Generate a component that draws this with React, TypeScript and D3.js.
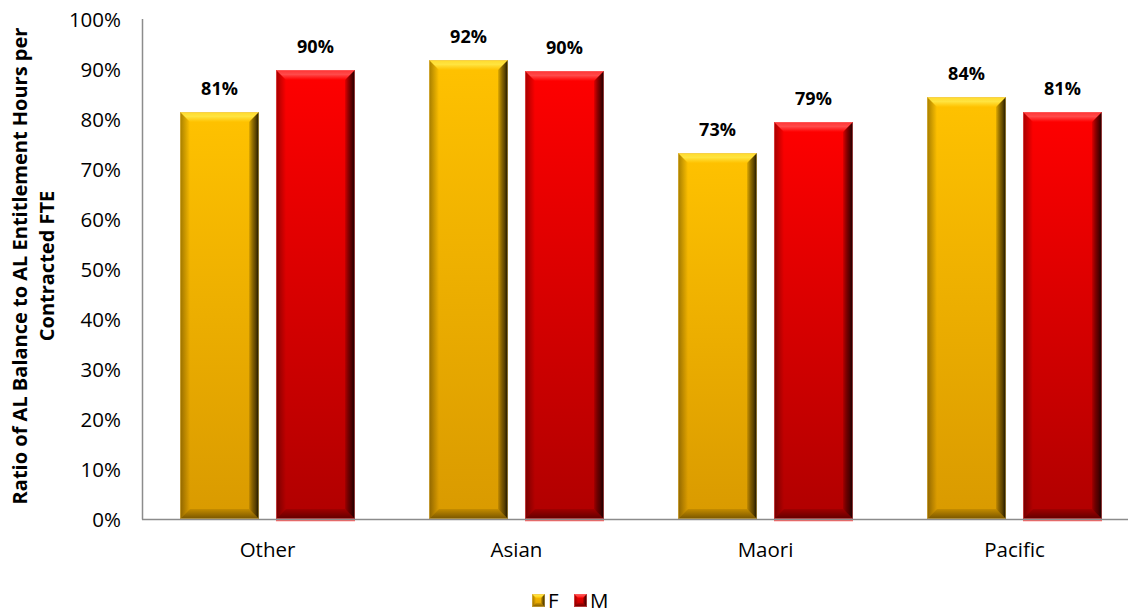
import React from "react";
import * as d3 from "d3";

const categories = ["Other", "Asian", "Maori", "Pacific"];
const seriesKeys = ["F", "M"];
const femaleValues = [0.814, 0.918, 0.732, 0.844];
const maleValues = [0.898, 0.896, 0.794, 0.814];
const yTicks = [0, 0.1, 0.2, 0.3, 0.4, 0.5, 0.6, 0.7, 0.8, 0.9, 1.0];
const yTitleLines = ["Ratio of AL Balance to AL Entitlement Hours per", "Contracted FTE"];

const W = 1128;
const H = 613;
const FONT = "'Open Sans', 'DejaVu Sans', sans-serif";

const palette: Record<string, { top: string; bottom: string; light: string; dark: string; edge: string }> = {
  F: { top: "#FFC200", bottom: "#D99A00", light: "#FFE440", dark: "#3A2A00", edge: "#F0C860" },
  M: { top: "#FF0000", bottom: "#B00000", light: "#FF4A4A", dark: "#300000", edge: "#FF7070" },
};

function BevelBar({ x, y, w, h, k, b }: { x: number; y: number; w: number; h: number; k: string; b: number }) {
  const x1 = x + w;
  const y1 = y + h;
  const bb = Math.min(b, w / 2, h / 2);
  const pts = (arr: number[][]) => arr.map((p) => p.join(",")).join(" ");
  return (
    <g>
      <rect x={x} y={y} width={w} height={h} fill={`url(#body-${k})`} />
      {/* top bevel */}
      <polygon points={pts([[x, y], [x1, y], [x1 - bb, y + bb], [x + bb, y + bb]])} fill={`url(#topb-${k})`} />
      {/* left bevel */}
      <polygon points={pts([[x, y], [x + bb, y + bb], [x + bb, y1 - bb], [x, y1]])} fill={`url(#leftb-${k})`} />
      {/* right bevel */}
      <polygon points={pts([[x1, y], [x1, y1], [x1 - bb, y1 - bb], [x1 - bb, y + bb]])} fill={`url(#rightb-${k})`} />
      {/* bottom bevel */}
      <polygon points={pts([[x, y1], [x1, y1], [x1 - bb, y1 - bb], [x + bb, y1 - bb]])} fill={`url(#botb-${k})`} />
      <rect x={x + 0.5} y={y + 0.5} width={w - 1} height={h - 1} fill="none" stroke={palette[k].edge} strokeOpacity={0.5} strokeWidth={1} />
    </g>
  );
}

export default function App() {
  const y = d3.scaleLinear().domain([0, 1]).range([519, 19]);
  const x0 = d3.scaleBand<string>().domain(categories).range([143, 1139]).paddingInner(0).paddingOuter(0);
  const x1 = d3.scaleBand<string>().domain(seriesKeys).range([37, 212]).paddingInner(0.177).paddingOuter(0);
  const fmt = d3.format(".0%");
  const seriesValues: Record<string, number[]> = { F: femaleValues, M: maleValues };

  return (
    <svg width={W} height={H} style={{ position: "absolute", left: 0, top: 0, background: "#fff" }}>
      <defs>
        {seriesKeys.map((k) => (
          <React.Fragment key={k}>
            <linearGradient id={`body-${k}`} x1="0" y1="0" x2="0" y2="1">
              <stop offset="0" stopColor={palette[k].top} />
              <stop offset="1" stopColor={palette[k].bottom} />
            </linearGradient>
            <linearGradient id={`topb-${k}`} x1="0" y1="0" x2="0" y2="1">
              <stop offset="0" stopColor={palette[k].light} stopOpacity={0.7} />
              <stop offset="0.45" stopColor={palette[k].light} stopOpacity={1} />
              <stop offset="1" stopColor={palette[k].top} stopOpacity={0.9} />
            </linearGradient>
            <linearGradient id={`leftb-${k}`} x1="0" y1="0" x2="1" y2="0">
              <stop offset="0" stopColor="#000" stopOpacity={0.35} />
              <stop offset="1" stopColor="#000" stopOpacity={0.0} />
            </linearGradient>
            <linearGradient id={`rightb-${k}`} x1="0" y1="0" x2="1" y2="0">
              <stop offset="0" stopColor="#000" stopOpacity={0.1} />
              <stop offset="0.6" stopColor={palette[k].dark} stopOpacity={0.75} />
              <stop offset="1" stopColor="#000" stopOpacity={0.92} />
            </linearGradient>
            <linearGradient id={`botb-${k}`} x1="0" y1="0" x2="0" y2="1">
              <stop offset="0" stopColor="#000" stopOpacity={0.1} />
              <stop offset="1" stopColor="#000" stopOpacity={0.45} />
            </linearGradient>
          </React.Fragment>
        ))}
      </defs>

      {/* y-axis tick labels */}
      {yTicks.map((t) => (
        <text key={t} x={121} y={y(t) + 7.5} textAnchor="end" fontFamily={FONT} fontSize={20.5} fill="#000">
          {fmt(t)}
        </text>
      ))}

      {/* y-axis title */}
      <g transform="translate(27,266) rotate(-90)">
        {yTitleLines.map((line, i) => (
          <text key={i} x={0} y={i * 27} textAnchor="middle" fontFamily={FONT} fontWeight="bold" fontSize={20} fill="#000">
            {line}
          </text>
        ))}
      </g>

      {/* bars */}
      {categories.map((c, ci) => (
        <g key={c} transform={`translate(${x0(c)},0)`}>
          {seriesKeys.map((k) => {
            const v = seriesValues[k][ci];
            const bx = x1(k)!;
            const by = y(v);
            const bh = y(0) - by;
            return (
              <g key={k}>
                <BevelBar x={bx} y={by} w={x1.bandwidth()} h={bh} k={k} b={10} />
                {k === "M" && (
                  <line x1={bx} x2={bx + x1.bandwidth()} y1={y(0) + 1.5} y2={y(0) + 1.5} stroke="#FF6060" strokeWidth={1.5} />
                )}
                <text x={bx + x1.bandwidth() / 2} y={by - 17} textAnchor="middle" fontFamily={FONT} fontWeight="bold" fontSize={18} fill="#000">
                  {fmt(v)}
                </text>
              </g>
            );
          })}
        </g>
      ))}

      {/* axes lines */}
      <line x1={142.5} x2={142.5} y1={19} y2={519.5} stroke="#8C8C8C" strokeWidth={1.5} />
      <line x1={142} x2={W} y1={519.5} y2={519.5} stroke="#8C8C8C" strokeWidth={1.5} />

      {/* category labels */}
      {categories.map((c) => (
        <text key={c} x={x0(c)! + x0.bandwidth() / 2} y={557} textAnchor="middle" fontFamily={FONT} fontSize={20.5} fill="#000">
          {c}
        </text>
      ))}

      {/* legend */}
      {seriesKeys.map((k, i) => {
        const lx = 532 + i * 42;
        return (
          <g key={k}>
            <BevelBar x={lx} y={594} w={13} h={13} k={k} b={4} />
            <text x={lx + 16} y={607.5} fontFamily={FONT} fontSize={20.5} fill="#000">
              {k}
            </text>
          </g>
        );
      })}
    </svg>
  );
}
